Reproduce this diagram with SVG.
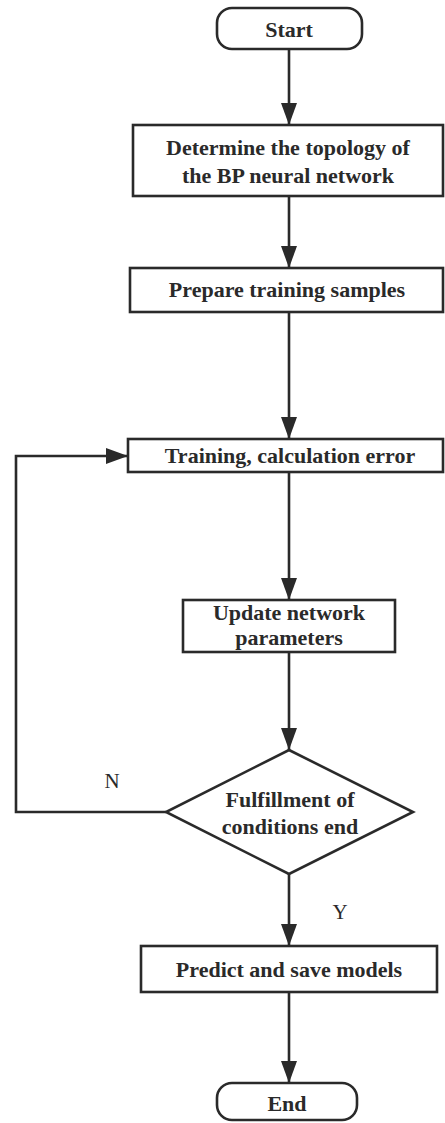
<svg xmlns="http://www.w3.org/2000/svg" width="445" height="1123" viewBox="0 0 445 1123">
<style>
.box{fill:#fff;stroke:#2a2a2a;stroke-width:2.6}
.t{font-family:"Liberation Serif","Times New Roman",serif;font-weight:bold;font-size:22px;fill:#2a2a2a;text-anchor:middle}
.l{font-family:"Liberation Serif","Times New Roman",serif;font-size:21px;fill:#2a2a2a;text-anchor:middle}
.c{fill:none;stroke:#2a2a2a;stroke-width:2.6}
</style>
<defs>
<marker id="ah" viewBox="0 0 22 16" refX="22" refY="8" markerWidth="22" markerHeight="16" markerUnits="userSpaceOnUse" orient="auto">
<path d="M0,0 L22,8 L0,16 Z" fill="#2a2a2a"/>
</marker>
</defs>
<rect width="445" height="1123" fill="#fff"/>
<g id="connectors">
<line class="c" x1="289" y1="49" x2="289" y2="125" marker-end="url(#ah)"/>
<line class="c" x1="289" y1="196" x2="289" y2="268" marker-end="url(#ah)"/>
<line class="c" x1="289" y1="312" x2="289" y2="439" marker-end="url(#ah)"/>
<line class="c" x1="289" y1="472" x2="289" y2="600" marker-end="url(#ah)"/>
<line class="c" x1="289" y1="652" x2="289" y2="750" marker-end="url(#ah)"/>
<line class="c" x1="289" y1="874" x2="289" y2="946" marker-end="url(#ah)"/>
<line class="c" x1="289" y1="992" x2="289" y2="1083" marker-end="url(#ah)"/>
<polyline class="c" points="166,812 16,812 16,456 128,456" marker-end="url(#ah)"/>
<text class="l" x="112" y="788">N</text>
<text class="l" x="340" y="919">Y</text>
</g>
<g id="start">
<rect class="box" x="217" y="8" width="145" height="41" rx="15"/>
<text class="t" x="289" y="37">Start</text>
</g>
<g id="topology">
<rect class="box" x="133" y="125" width="310" height="71"/>
<text class="t" x="288" y="155">Determine the topology of</text>
<text class="t" x="288" y="183">the BP neural network</text>
</g>
<g id="prepare">
<rect class="box" x="130" y="268" width="313" height="44"/>
<text class="t" x="287" y="297">Prepare training samples</text>
</g>
<g id="training">
<rect class="box" x="128" y="439" width="315" height="33"/>
<text class="t" x="290" y="463">Training, calculation error</text>
</g>
<g id="update">
<rect class="box" x="183" y="600" width="212" height="52"/>
<text class="t" x="289" y="620">Update network</text>
<text class="t" x="289" y="645">parameters</text>
</g>
<g id="decision">
<polygon class="box" points="289,750 413,812 289,874 166,812"/>
<text class="t" x="290" y="807">Fulfillment of</text>
<text class="t" x="290" y="834">conditions end</text>
</g>
<g id="predict">
<rect class="box" x="141" y="946" width="296" height="46"/>
<text class="t" x="289" y="977">Predict and save models</text>
</g>
<g id="end">
<rect class="box" x="217" y="1083" width="140" height="37" rx="15"/>
<text class="t" x="287" y="1111">End</text>
</g>
</svg>
